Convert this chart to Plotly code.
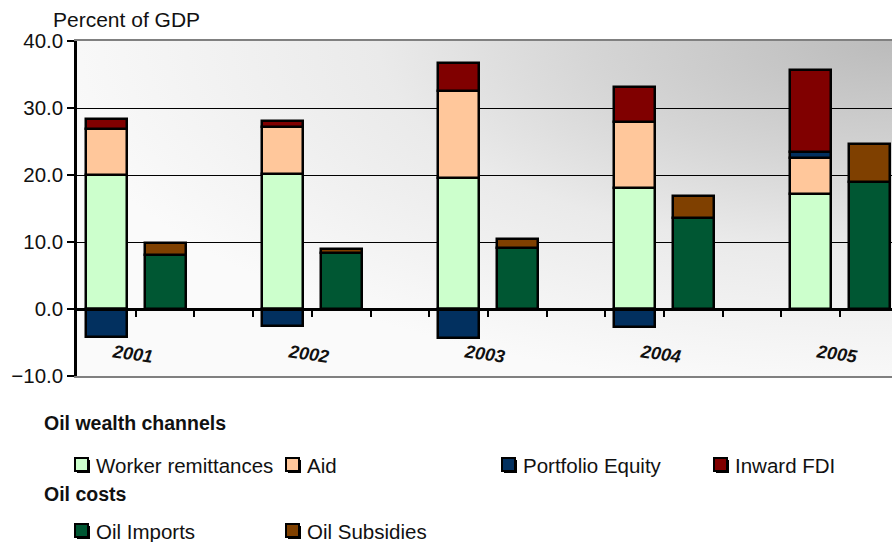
import base64
import plotly.graph_objects as go

# ---- data (percent of GDP) ----
years = ["2001", "2002", "2003", "2004", "2005"]
worker_remittances = [20.0, 20.1, 19.6, 18.1, 17.2]
aid = [6.9, 7.1, 13.0, 9.8, 5.3]
portfolio_equity = [-4.2, -2.5, -4.3, -2.7, 0.9]
inward_fdi = [1.5, 0.9, 4.1, 5.3, 12.2]
oil_imports = [8.0, 8.3, 9.1, 13.6, 18.9]
oil_subsidies = [1.8, 0.6, 1.3, 3.3, 5.7]

y_ticks = [-10, 0, 10, 20, 30, 40]

# ---- styling ----
FONT = "Liberation Sans, Arial, sans-serif"
C_REMIT = "#CCFFCC"
C_AID = "#FFC79B"
C_PORT = "#02305F"
C_FDI = "#800000"
C_IMPORTS = "#005733"
C_SUBS = "#7F4000"

W, H = 892, 542
PLOT_L, PLOT_R, PLOT_T, PLOT_B = 77, 892, 41, 376
SLOT_PX = 58.7  # width of one category slot in pixels

# each year uses three slots: wealth stack, oil-cost stack, gap
x_wealth = [3 * i + 1 for i in range(len(years))]
x_oil = [3 * i + 2 for i in range(len(years))]
x_year = [3 * i + 1.5 for i in range(len(years))]
x_max = 0.5 + (PLOT_R - PLOT_L) / SLOT_PX

fig = go.Figure()

wealth = [
    ("Worker remittances", worker_remittances, C_REMIT),
    ("Aid", aid, C_AID),
    ("Portfolio Equity", portfolio_equity, C_PORT),
    ("Inward FDI", inward_fdi, C_FDI),
]
costs = [
    ("Oil Imports", oil_imports, C_IMPORTS),
    ("Oil Subsidies", oil_subsidies, C_SUBS),
]

for name, vals, col in wealth:
    fig.add_trace(go.Bar(x=x_wealth, y=vals, name=name, width=0.7,
                         marker=dict(color=col, line=dict(color="black", width=2.5)),
                         showlegend=False))
for name, vals, col in costs:
    fig.add_trace(go.Bar(x=x_oil, y=vals, name=name, width=0.7,
                         marker=dict(color=col, line=dict(color="black", width=2.5)),
                         showlegend=False))

# invisible trace carrying the zero-line axis
fig.add_trace(go.Scatter(x=[1], y=[0], xaxis="x2", yaxis="y", mode="markers",
                         marker=dict(opacity=0), showlegend=False, hoverinfo="skip"))

# gradient background of the plotting area
svg = (
    '<svg xmlns="http://www.w3.org/2000/svg" width="100" height="100" '
    'viewBox="0 0 100 100" preserveAspectRatio="none">'
    '<defs><radialGradient id="g" cx="1" cy="0" r="1.05" fx="1" fy="0">'
    '<stop offset="0" stop-color="#bbbbbb"/>'
    '<stop offset="0.35" stop-color="#d5d5d5"/>'
    '<stop offset="0.6" stop-color="#eaeaea"/>'
    '<stop offset="1" stop-color="#fafafa"/>'
    '</radialGradient></defs>'
    '<rect x="0" y="0" width="100" height="100" fill="url(#g)"/></svg>'
)
bg_src = "data:image/svg+xml;base64," + base64.b64encode(svg.encode()).decode()


def px(xp):
    return (xp - PLOT_L) / (PLOT_R - PLOT_L)


def py(yp):
    return (PLOT_B - yp) / (PLOT_B - PLOT_T)


annotations = []
shapes = []

# axis title
annotations.append(dict(text="Percent of GDP", xref="paper", yref="paper",
                        x=px(51), y=py(20), xanchor="left", yanchor="middle",
                        showarrow=False, font=dict(family=FONT, size=21, color="#111")))

# year labels
for xv, yr in zip(x_year, years):
    annotations.append(dict(text=f"<b><i>{yr}</i></b>", xref="x", yref="y",
                            x=xv - 0.06, y=-6.7, showarrow=False, textangle=8,
                            font=dict(family=FONT, size=18, color="#111")))

# legend block
legend_titles = [("Oil wealth channels", 423), ("Oil costs", 494)]
for txt, yp in legend_titles:
    annotations.append(dict(text=f"<b>{txt}</b>", xref="paper", yref="paper",
                            x=px(42), y=py(yp), xanchor="left", yanchor="middle",
                            showarrow=False, font=dict(family=FONT, size=19.5, color="#111")))

legend_rows = [
    (465, [(wealth[0], 96), (wealth[1], 307), (wealth[2], 523), (wealth[3], 735)]),
    (531, [(costs[0], 96), (costs[1], 307)]),
]
for yp, items in legend_rows:
    for (name, _, col), tx in items:
        sx = tx - 21
        shapes.append(dict(type="rect", xref="paper", yref="paper",
                           x0=px(sx + 2), x1=px(sx + 15), y0=py(yp + 8), y1=py(yp - 5),
                           fillcolor="black", line=dict(width=0), layer="above"))
        shapes.append(dict(type="rect", xref="paper", yref="paper",
                           x0=px(sx), x1=px(sx + 13), y0=py(yp + 6), y1=py(yp - 7),
                           fillcolor=col, line=dict(color="black", width=2), layer="above"))
        annotations.append(dict(text=name, xref="paper", yref="paper",
                                x=px(tx - 2), y=py(yp), xanchor="left", yanchor="middle",
                                showarrow=False, font=dict(family=FONT, size=20.5, color="#111")))

fig.update_layout(
    width=W, height=H, autosize=False,
    margin=dict(l=PLOT_L, r=W - PLOT_R, t=PLOT_T, b=H - PLOT_B, pad=0),
    paper_bgcolor="white", plot_bgcolor="rgba(0,0,0,0)",
    barmode="relative", bargap=0,
    font=dict(family=FONT, size=20, color="#111"),
    images=[dict(source=bg_src, xref="paper", yref="paper", x=0, y=1,
                 sizex=1, sizey=1, sizing="stretch", layer="below")],
    xaxis=dict(range=[0.5, x_max], showticklabels=False, ticks="", showgrid=False,
               zeroline=False, showline=True, linecolor="#808080", linewidth=2,
               mirror=True),
    xaxis2=dict(matches="x", overlaying="x", anchor="free", position=0.2,
                side="bottom", showticklabels=False, showgrid=False, zeroline=False,
                showline=True, linecolor="black", linewidth=2.5,
                ticks="outside", ticklen=6, tickwidth=2, tickcolor="black",
                tickvals=[k + 0.5 for k in range(1, 14)]),
    yaxis=dict(range=[-10, 40], tickvals=y_ticks, tickformat=".1f",
               showgrid=True, gridcolor="black", gridwidth=1.3, zeroline=False,
               showline=True, linecolor="black", linewidth=2.5,
               ticks="outside", ticklen=7, tickwidth=2, tickcolor="black",
               tickfont=dict(family=FONT, size=20.5, color="#111")),
    annotations=annotations, shapes=shapes,
)

fig.write_html("out.html")
